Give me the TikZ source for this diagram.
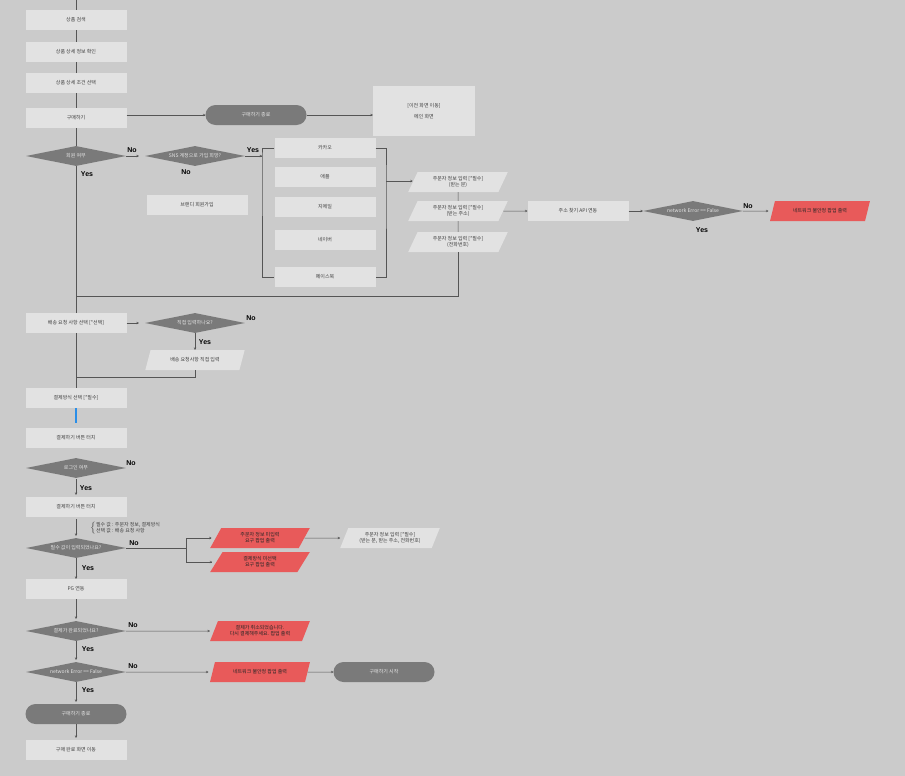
\documentclass[tikz,border=0pt]{standalone}
\usepackage{fontspec}
\newfontfamily\kr{Noto Sans CJK KR}
\newfontfamily\lbl{Liberation Sans}
\usetikzlibrary{shapes.geometric,arrows.meta}
\definecolor{bgc}{HTML}{CBCBCB}
\definecolor{boxc}{HTML}{E2E2E2}
\definecolor{darkc}{HTML}{7A7A7A}
\definecolor{redc}{HTML}{E85A5A}
\definecolor{linec}{HTML}{555555}
\definecolor{bluec}{HTML}{2A8EE8}
\begin{document}
\begin{tikzpicture}[x=1pt,y=-1pt, every node/.style={font=\kr\fontsize{5}{6}\selectfont,text=black!75},
  fbox/.style={fill=boxc,minimum width=101pt,minimum height=20pt,inner sep=1pt,align=center},
  term/.style={fill=darkc,rounded corners=10pt,minimum width=101pt,minimum height=20pt,inner sep=1pt,text=white!90!black},
  dec/.style={diamond,fill=darkc,aspect=5,minimum width=100pt,minimum height=20pt,inner sep=0pt,text=white!90!black},
  io/.style={trapezium,trapezium left angle=65,trapezium right angle=115,trapezium stretches=true,fill=boxc,minimum width=100pt,minimum height=20pt,inner sep=1pt,align=center},
  ioerr/.style={io,fill=redc,text=black!85},
  yn/.style={font=\lbl\bfseries\fontsize{7}{8}\selectfont,text=black},
  flow/.style={draw=linec,line width=0.5pt},
  arr/.style={flow,-{To[length=2.5pt,width=2.5pt]}}]
  \path[use as bounding box,fill=bgc] (0,0) rectangle (905,776);
  % main column
  \coordinate (top) at (76,0);
  \node[fbox] (s1) at (76,20) {상품 검색};
  \node[fbox] (s2) at (76,52) {상품 상세 정보 확인};
  \node[fbox] (s3) at (76,83) {상품 상세 조건 선택};
  \node[fbox] (buy) at (76,118) {구매하기};
  \node[term] (end1) at (256,115) {구매하기 종료};
  \node[fbox,minimum width=102pt,minimum height=50pt] (home) at (424,111) {[이전 화면 이동]\\[5pt]메인 화면};
  \draw[flow] (top) -- (s1); \draw[flow] (s1) -- (s2); \draw[flow] (s2) -- (s3); \draw[flow] (s3) -- (buy);
  \draw[arr] (buy.east |- end1) -- (end1); \draw[arr] (end1) -- (end1 -| home.west);
  % member / sns
  \node[dec] (member) at (76,156) {회원 여부};
  \node[dec] (sns) at (195,156) {SNS 계정으로 가입 희망?};
  \node[fbox] (brandi) at (197,205) {브랜디 회원가입};
  \draw[flow] (buy) -- (member);
  \draw[arr,shorten >=6pt] (member) -- (sns);
  \node[yn] (n1) at (132,150) {No}; \node[yn] (y1) at (87,174) {Yes};
  \node[yn] (n2) at (186,172) {No}; \node[yn] (y2) at (253,150) {Yes};
  \node[fbox] (kakao) at (325,148) {카카오};
  \node[fbox] (apple) at (325,177) {애플};
  \node[fbox] (gmail) at (325,207) {지메일};
  \node[fbox] (naver) at (325,240) {네이버};
  \node[fbox] (fb) at (325,277) {페이스북};
  \coordinate (lb) at (262,156);
  \coordinate (rb) at (386,181);
  \draw[arr] (sns) -- (lb);
  \draw[flow] (kakao.west) -| (lb) |- (fb.west);
  \draw[flow] (kakao.east) -| (rb) |- (fb.east);
  % orderer info
  \node[io] (p1) at (458,182) {주문자 정보 입력 [*필수]\\(받는 분)};
  \node[io] (p2) at (458,211) {주문자 정보 입력 [*필수]\\(받는 주소)};
  \node[io] (p3) at (458,242) {주문자 정보 입력 [*필수]\\(전화번호)};
  \draw[arr] (rb) -- (p1.west |- rb);
  \draw[flow] (p1) -- (p2); \draw[flow] (p2) -- (p3);
  \node[fbox] (api) at (578,211) {주소 찾기 API 연동};
  \node[dec] (net1) at (693,211) {network Error == False};
  \node[ioerr] (err1) at (820,211) {네트워크 불안정 팝업 출력};
  \draw[arr] (p2) -- (api); \draw[arr] (api) -- (net1); \draw[arr,shorten >=4pt] (net1) -- (err1);
  \node[yn] (n3) at (748,206) {No}; \node[yn] (y3) at (702,230) {Yes};
  \coordinate (j1) at (76,296);
  \draw[flow] (p3) |- (j1);
  % shipping
  \node[fbox] (ship) at (76,323) {배송 요청 사항 선택 [*선택]};
  \node[dec] (direct) at (195,323) {직접 입력하나요?};
  \node[io] (shipin) at (195,360) {배송 요청사항 직접 입력};
  \draw[flow] (member) -- (ship);
  \draw[arr,shorten >=6pt] (ship) -- (direct);
  \draw[arr] (direct) -- (shipin);
  \node[yn] (n4) at (251,318) {No}; \node[yn] (y4) at (205,342) {Yes};
  \coordinate (j2) at (76,377);
  \draw[flow] (shipin) |- (j2);
  % payment
  \node[fbox] (pay) at (76,398) {결제방식 선택 [*필수]};
  \node[fbox] (paybtn) at (76,438) {결제하기 버튼 터치};
  \draw[flow] (ship) -- (pay);
  \draw[draw=bluec,line width=2.5pt,shorten >=5pt] (pay) -- (paybtn);
  \node[dec] (login) at (76,468) {로그인 여부};
  \node[fbox] (paybtn2) at (76,507) {결제하기 버튼 터치};
  \draw[arr,shorten <=1pt,shorten >=2pt] (login) -- (paybtn2);
  \node[yn] (n5) at (131,463) {No}; \node[yn] (y5) at (86,488) {Yes};
  \node[dec] (req) at (76,548) {필수 값이 입력되었나요?};
  \draw[arr,shorten <=2pt,shorten >=2pt] (paybtn2) -- (req);
  \node[anchor=west,inner sep=0pt] (rule) at (90,528) {$\left\{\begin{tabular}{@{}l@{}}필수 값 : 주문자 정보, 결제방식\\선택 값 : 배송 요청 사항\end{tabular}\right.$};
  \node[ioerr] (err2) at (260,538) {주문자 정보 미입력\\요구 팝업 출력};
  \node[ioerr] (err3) at (260,562) {결제방식 미선택\\요구 팝업 출력};
  \node[io] (p4) at (390,538) {주문자 정보 입력 [*필수]\\(받는 분, 받는 주소, 전화번호)};
  \coordinate (rq) at (186,548);
  \draw[flow] (req) -- (rq);
  \draw[arr,shorten >=4pt] (rq) |- (err2.west |- 0,538);
  \draw[arr,shorten >=4pt] (rq) |- (err3.west |- 0,562);
  \draw[arr,shorten >=4pt] (err2) -- (p4);
  \node[yn] (n6) at (134,543) {No}; \node[yn] (y6) at (88,568) {Yes};
  \node[fbox] (pg) at (76,589) {PG 연동};
  \draw[arr] (req) -- (pg);
  % result
  \node[dec] (done) at (76,631) {결제가 완료되었나요?};
  \node[ioerr] (err4) at (260,631) {결제가 취소되었습니다.\\다시 결제해주세요. 팝업 출력};
  \draw[arr,shorten >=2pt] (pg) -- (done);
  \draw[arr,shorten >=4pt] (done) -- (err4);
  \node[yn] (n7) at (133,625) {No}; \node[yn] (y7) at (88,649) {Yes};
  \node[dec] (net2) at (76,672) {network Error == False};
  \node[ioerr] (err5) at (260,672) {네트워크 불안정 팝업 출력};
  \node[term] (start) at (384,672) {구매하기 시작};
  \draw[arr,shorten >=2pt] (done) -- (net2);
  \draw[arr,shorten >=4pt] (net2) -- (err5); \draw[arr] (err5) -- (start);
  \node[yn] (n8) at (133,666) {No}; \node[yn] (y8) at (88,690) {Yes};
  \node[term] (end2) at (76,714) {구매하기 종료};
  \node[fbox] (fin) at (76,750) {구매 완료 화면 이동};
  \draw[arr,shorten >=2pt] (net2) -- (end2); \draw[arr,shorten >=2pt] (end2) -- (fin);
\end{tikzpicture}
\end{document}
